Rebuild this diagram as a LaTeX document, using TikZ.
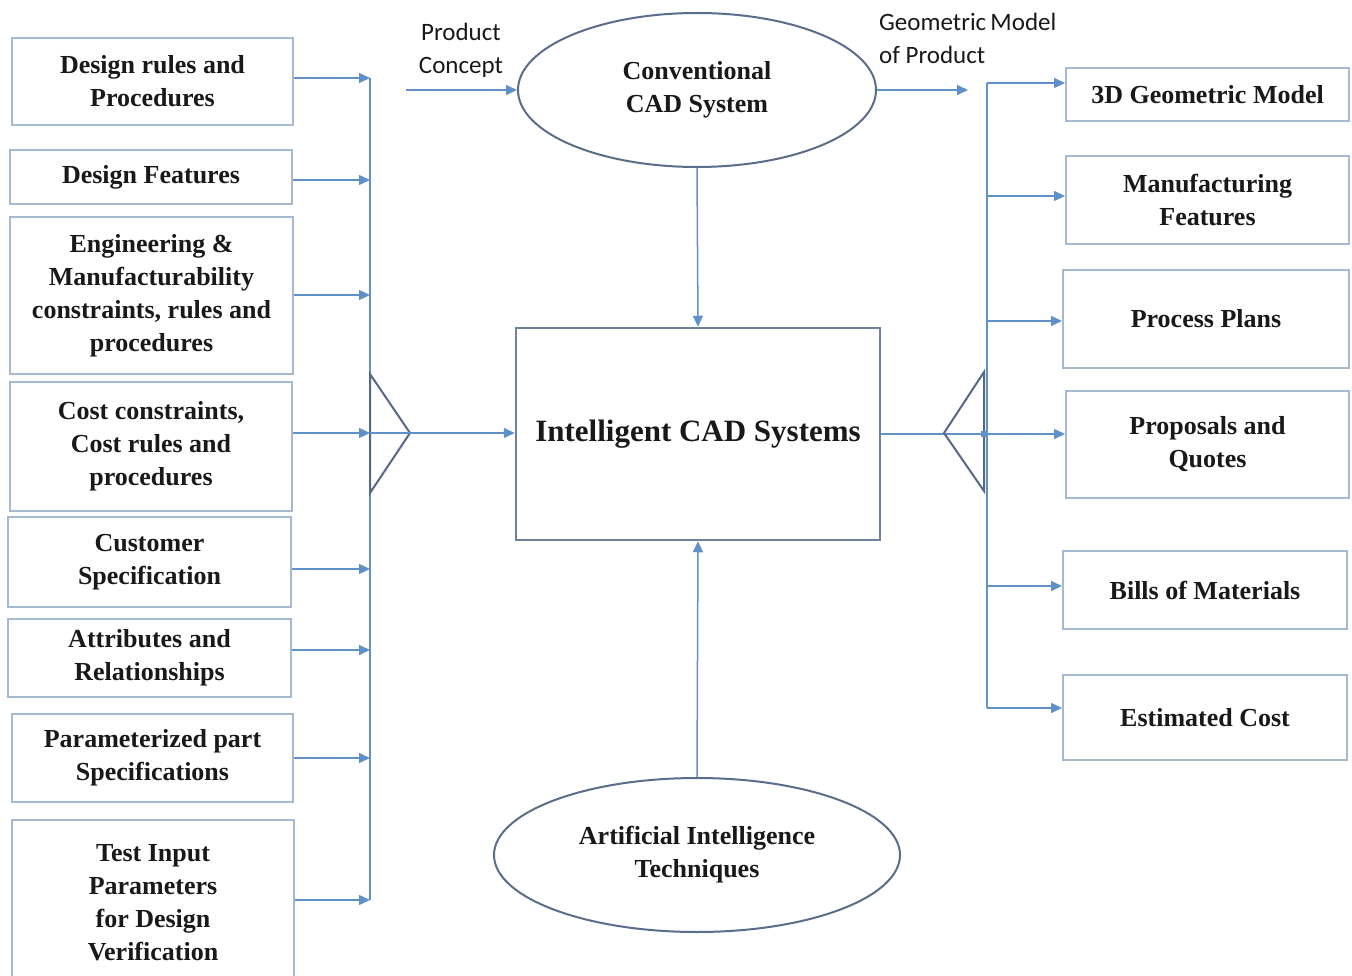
\documentclass[tikz,border=0pt]{standalone}
\usepackage{fontspec}
\setmainfont{Liberation Serif}
\newfontfamily\labfont{Carlito}
\usetikzlibrary{arrows.meta,shapes.geometric}
\definecolor{boxline}{RGB}{165,185,208}
\definecolor{arrcol}{RGB}{95,145,200}
\definecolor{tricol}{RGB}{85,105,135}
\definecolor{cboxcol}{RGB}{110,130,160}
\definecolor{ellcol}{RGB}{90,110,140}
\definecolor{txtcol}{RGB}{25,25,25}
\tikzset{
  sbox/.style={draw=boxline, line width=2pt, rectangle, align=center, inner sep=0pt,
    text=txtcol, font=\fontsize{26}{33}\selectfont\bfseries},
  ellbox/.style={draw=ellcol, line width=2pt, ellipse, align=center, inner sep=0pt,
    text=txtcol, font=\fontsize{26}{33}\selectfont\bfseries},
  lab/.style={align=left, inner sep=0pt, text=txtcol, font=\fontsize{25}{33}\selectfont\labfont},
  arr/.style={draw=arrcol, line width=1.5pt, -{Triangle[length=11pt,width=10pt]}},
  ln/.style={draw=arrcol, line width=1.5pt},
  tri/.style={draw=tricol, line width=2pt, line join=miter}
}
\begin{document}
\begin{tikzpicture}[x=1pt,y=-1pt]
\clip (0,0) rectangle (1352,976);
\fill[white] (0,0) rectangle (1352,976);

% left boxes
\node[sbox, minimum width=281pt, minimum height=87pt] (L1) at (152.5,81.5) {Design rules and\\Procedures};
\node[sbox, minimum width=282pt, minimum height=54pt] (L2) at (151,177) {Design Features};
\node[sbox, minimum width=283pt, minimum height=157pt] (L3) at (151.5,295.5) {Engineering \&\\Manufacturability\\constraints, rules and\\procedures};
\node[sbox, minimum width=282pt, minimum height=129pt] (L4) at (151,446.5) {Cost constraints,\\Cost rules and\\procedures};
\node[sbox, minimum width=283pt, minimum height=90pt] (L5) at (149.5,562) {Customer\\Specification};
\node[sbox, minimum width=283pt, minimum height=78pt] (L6) at (149.5,657.5) {Attributes and\\Relationships};
\node[sbox, minimum width=281pt, minimum height=88pt] (L7) at (152.5,758) {Parameterized part\\Specifications};
\node[sbox, minimum width=282pt, minimum height=166pt] (L8) at (153,903) {Test Input\\Parameters\\for Design\\Verification};

% right boxes
\node[sbox, minimum width=283pt, minimum height=53pt] (R1) at (1207.5,94.5) {3D Geometric Model};
\node[sbox, minimum width=283pt, minimum height=88pt] (R2) at (1207.5,200) {Manufacturing\\Features};
\node[sbox, minimum width=286pt, minimum height=98pt] (R3) at (1206,319) {Process Plans};
\node[sbox, minimum width=283pt, minimum height=107pt] (R4) at (1207.5,444.5) {Proposals and\\Quotes};
\node[sbox, minimum width=284pt, minimum height=78pt] (R5) at (1205,590) {Bills of Materials};
\node[sbox, minimum width=284pt, minimum height=85pt] (R6) at (1205,717.5) {Estimated Cost};

% center
\node[draw=cboxcol, line width=2.5pt, rectangle, inner sep=0pt, minimum width=364pt, minimum height=212pt,
  text=txtcol, font=\fontsize{31}{36}\selectfont\bfseries] (C) at (698,434) {Intelligent CAD Systems};
\node[ellbox, minimum width=358pt, minimum height=154pt] (E1) at (697,90) {Conventional\\CAD System};
\node[ellbox, minimum width=406pt, minimum height=154pt] (E2) at (697,855) {Artificial Intelligence\\Techniques};

% labels
\node[lab, align=center] (PC) at (461,50) {Product\\Concept};
\node[lab, anchor=north west] (GM) at (879,13) {Geometric\,Model\\of Product};

% coordinates
\coordinate (busL) at (370,0);
\coordinate (busR) at (987,0);
\coordinate (pcs) at (406,90);
\coordinate (gme) at (968,90);
\coordinate (tlapex) at (410,433);
\coordinate (trapex) at (944,433);

% left arrows
\path ([yshift=3.5pt]L1.east) coordinate (a1);
\path ([yshift=-3pt]L2.east) coordinate (a2);
\path ([yshift=0.5pt]L3.east) coordinate (a3);
\path ([yshift=13.5pt]L4.east) coordinate (a4);
\path ([yshift=-7pt]L5.east) coordinate (a5);
\path ([yshift=7.5pt]L6.east) coordinate (a6);
\path (L7.east) coordinate (a7);
\path ([yshift=3pt]L8.east) coordinate (a8);
\foreach \i in {1,...,8} {\draw[arr] (a\i) -- (a\i -| busL);}
\draw[ln] (a1 -| busL) -- (a8 -| busL);

% left triangle
\draw[tri] (370,374) -- (tlapex) -- (370,493) -- cycle;
\draw[arr] (a4 -| busL) -- (a4 -| C.west);

% right arrows
\path ([yshift=11.5pt]R1.west) coordinate (b1);
\path ([yshift=4pt]R2.west) coordinate (b2);
\path ([yshift=-2pt]R3.west) coordinate (b3);
\path ([yshift=10.5pt]R4.west) coordinate (b4);
\path ([yshift=4pt]R5.west) coordinate (b5);
\path ([yshift=9.5pt]R6.west) coordinate (b6);
\foreach \i in {1,...,6} {\draw[arr] (b\i -| busR) -- (b\i);}
\draw[ln] (b1 -| busR) -- (b6 -| busR);
\draw[ln] (C.east) -- (b4 -| busR);
\draw[tri] (984,372) -- (trapex) -- (984,491) -- cycle;
\fill[arrcol] ([xshift=-3pt]b4 -| busR) ++(-3,-3) rectangle ++(6,6);

% top and bottom
\draw[arr] (pcs) -- (E1.west);
\draw[arr] (E1.east) -- (gme);
\draw[arr] (E1.south) -- (C.north);
\draw[arr] (E2.north) -- (C.south);
\end{tikzpicture}
\end{document}
